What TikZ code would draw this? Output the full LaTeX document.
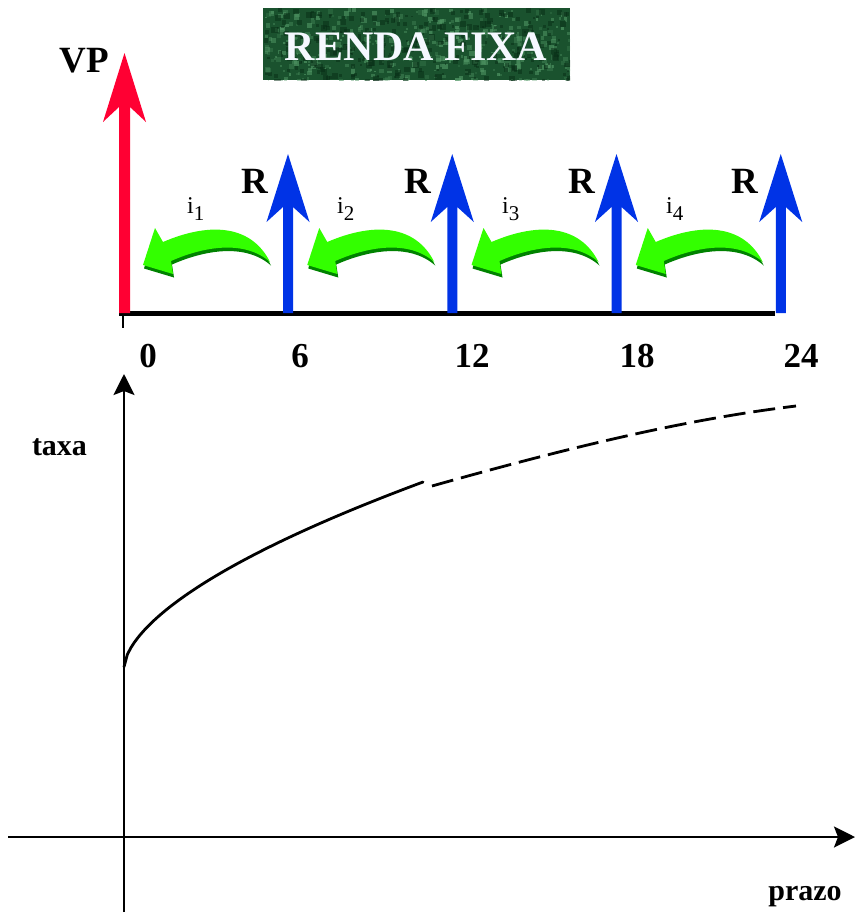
\documentclass[tikz,border=0pt]{standalone}
\usepackage{fontspec}
\setmainfont{Liberation Serif}
\usetikzlibrary{arrows.meta}
\definecolor{vpred}{RGB}{255,0,51}
\definecolor{rblue}{RGB}{0,51,230}
\definecolor{jurogreen}{RGB}{51,255,0}
\definecolor{jurodark}{RGB}{0,130,0}
\definecolor{titlegreen}{RGB}{26,82,46}
\definecolor{titlelight}{RGB}{80,150,100}
\definecolor{titledark}{RGB}{8,45,22}
\definecolor{titletext}{RGB}{245,248,255}

\begin{document}
\begin{tikzpicture}[x=1pt,y=-1pt,
	bignum/.style={font=\fontsize{35}{35}\bfseries\selectfont,anchor=base,inner sep=0pt},
	bigbold/.style={font=\fontsize{37}{37}\bfseries\selectfont,anchor=base,inner sep=0pt},
	axislbl/.style={font=\fontsize{30}{30}\bfseries\selectfont,anchor=base,inner sep=0pt},
	ilbl/.style={font=\fontsize{24}{24}\selectfont,anchor=base west,inner sep=0pt},
	axisline/.style={line width=2.5pt,-{Stealth[length=21pt,width=21pt,inset=4pt]}},
	curveline/.style={line width=2.8pt}]
	\useasboundingbox (0,0) rectangle (855,913);
	\fill[titlegreen] (263,8) rectangle (570,80);
	\begin{scope}
		\clip (263,8) rectangle (570,80);
		\pgfmathsetseed{42}
		\foreach \k in {1,...,420} {
			\pgfmathsetmacro\px{263+307*rnd}
			\pgfmathsetmacro\py{8+72*rnd}
			\pgfmathsetmacro\ps{1.5+4*rnd}
			\pgfmathsetmacro\po{0.2+0.5*rnd}
			\fill[titlelight,opacity=\po] (\px,\py) rectangle ++(\ps,\ps);
		}
		\foreach \k in {1,...,300} {
			\pgfmathsetmacro\px{263+307*rnd}
			\pgfmathsetmacro\py{8+72*rnd}
			\pgfmathsetmacro\ps{1.5+5*rnd}
			\fill[titledark,opacity=0.5] (\px,\py) rectangle ++(\ps,\ps);
		}
	\end{scope}
	\node[font=\fontsize{42}{42}\bfseries\selectfont,text=titletext,anchor=base,inner sep=0pt] (title) at (416,60) {RENDA FIXA};
	\coordinate (t0) at (119,313);
	\coordinate (t24) at (775,313);
	\draw[line width=5pt] (t0) -- (t24);
	\draw[line width=2pt] (123,313) -- (123,328);
	\fill[vpred] (119,313) -- (119,107) -- (103,122) -- (124.5,53) -- (146,122) -- (130,107) -- (130,313) -- cycle;
	\foreach \x in {288,452.25,616.5,780.75} {
		\fill[rblue] (\x-5,313) -- (\x-5,207) -- (\x-21.5,222) -- (\x,154) -- (\x+21.5,222) -- (\x+5,207) -- (\x+5,313) -- cycle;
	}
	\foreach \s in {0,164.25,328.5,492.75} {
		\begin{scope}[xshift=\s]
			\fill[jurodark,shift={(1,3.5)}] (270,262) .. controls (252,226) and (212,221) .. (163,242) -- (155,228) -- (143,265) -- (173,274) -- (171,261) .. controls (205,246) and (245,240) .. (270,262) -- cycle;
			\fill[jurogreen] (270,262) .. controls (252,226) and (212,221) .. (163,242) -- (155,228) -- (143,265) -- (173,274) -- (171,261) .. controls (205,246) and (245,240) .. (270,262) -- cycle;
		\end{scope}
	}
	\node[bigbold] (vp) at (84,72) {VP};
	\foreach \x [count=\n] in {255,418,582,745} {
		\node[bigbold] (r\n) at (\x,193) {R};
	}
	\foreach \x [count=\n] in {187,337,502,666} {
		\node[ilbl] (i\n) at (\x,213) {i\raisebox{-7pt}{\fontsize{21}{21}\selectfont\n}};
	}
	\foreach \x/\t in {148/0,300/6,472/12,637/18,801/24} {
		\node[bignum] (n\t) at (\x,367) {\t};
	}
	\coordinate (ybot) at (124,912);
	\coordinate (ytop) at (124,374);
	\coordinate (xleft) at (8,837);
	\coordinate (xright) at (855,837);
	\draw[axisline] (ybot) -- (ytop);
	\draw[axisline] (xleft) -- (xright);
	\node[axislbl] (taxa) at (59.5,455) {taxa};
	\node[axislbl] (prazo) at (805,900) {prazo};
	\coordinate (c0) at (124,667);
	\coordinate (c1) at (423,482);
	\coordinate (d0) at (432,486);
	\coordinate (d1) at (796,406);
	\draw[curveline,line cap=round] plot[domain=0.001:299,samples=90] ({124+\x},{667-6.05*(\x)^0.6});
	\draw[curveline,dash pattern=on 22pt off 8pt] (d0) .. controls (560,450) and (680,420) .. (d1);
\end{tikzpicture}
\end{document}
